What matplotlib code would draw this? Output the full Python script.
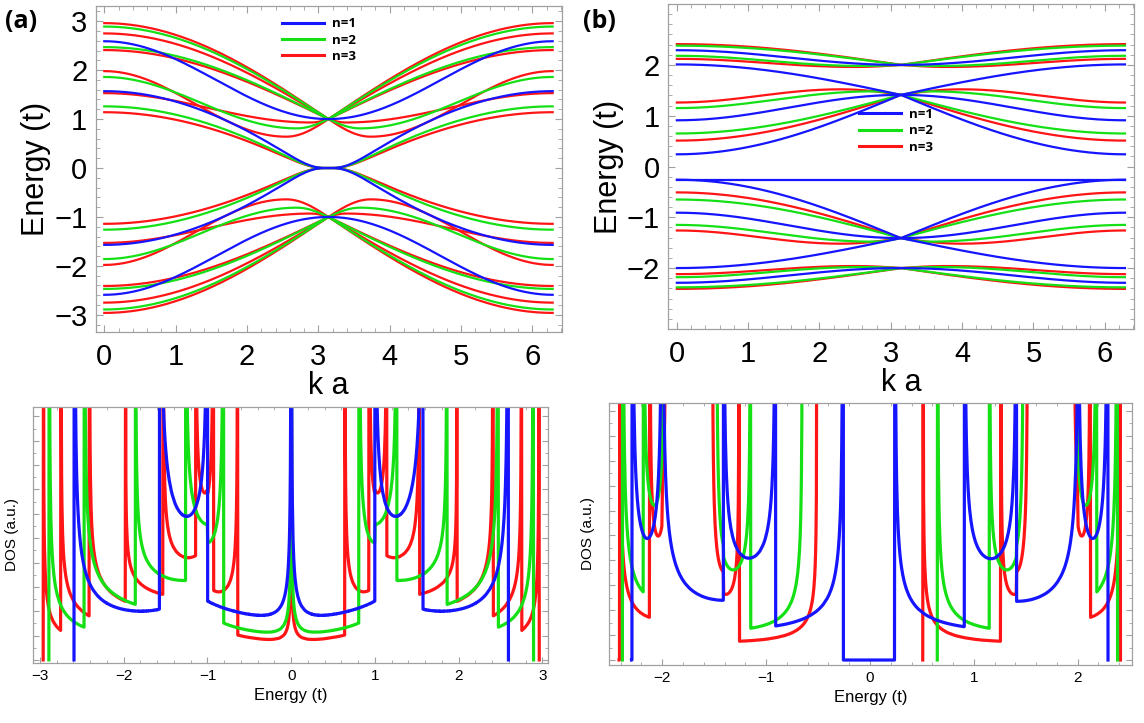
import numpy as np
import matplotlib.pyplot as plt

PI = np.pi

# Band nodes: (k of each extremum, E there, end) for 0 <= k <= pi.
# The other half of the zone is the mirror image E(2pi - k) = E(k).
# end = how the band meets k=pi: "flat" (extremum), "cross" (finite slope),
#       "touch" (crossing through a flat inflection point)

# ---- panel (a), E > 0 bands (E < 0 bands are the mirror image E -> -E)
a_n1 = [
    ([0, PI], [2.59, 1.00], "flat"),
    ([0, PI], [1.57, 0.00], "touch"),
]
a_n2 = [
    ([0, PI], [2.89, 1.00], "cross"),
    ([0, PI], [2.47, 1.00], "cross"),
    ([0, 2.70, PI], [1.86, 0.81, 1.00], "cross"),
    ([0, PI], [1.26, 0.00], "touch"),
]
a_n3 = [
    ([0, PI], [2.96, 1.00], "cross"),
    ([0, PI], [2.75, 1.00], "cross"),
    ([0, PI], [2.41, 1.00], "cross"),
    ([0, 2.55, PI], [1.98, 0.64, 1.00], "cross"),
    ([0, 2.90, PI], [1.53, 0.93, 1.00], "cross"),
    ([0, PI], [1.14, 0.00], "touch"),
]

# ---- panel (b), all n=1 bands
b_n1 = [
    ([0, PI], [2.29, 2.00], "flat"),
    ([0, PI], [2.01, 1.41], "cross"),
    ([0, PI], [0.91, 1.41], "flat"),
    ([0, PI], [0.24, 1.41], "cross"),
    ([0, PI], [-0.26, -0.26], "flat"),
    ([0, PI], [-0.26, -1.41], "cross"),
    ([0, PI], [-0.91, -1.41], "flat"),
    ([0, PI], [-2.00, -1.41], "cross"),
    ([0, PI], [-2.29, -2.00], "flat"),
]
# n=2 and n=3 in (b): E > 0 bands, mirrored to E < 0
b_n2 = [
    ([0, PI], [2.38, 2.00], "cross"),
    ([0, 2.60, PI], [2.18, 1.98, 2.00], "cross"),
    ([0, 2.75, PI], [1.15, 1.48, 1.41], "cross"),
    ([0, PI], [0.65, 1.41], "cross"),
]
b_n3 = [
    ([0, PI], [2.41, 2.00], "cross"),
    ([0, 2.50, PI], [2.12, 1.96, 2.00], "cross"),
    ([0, 2.30, PI], [1.26, 1.52, 1.41], "cross"),
    ([0, PI], [0.51, 1.41], "cross"),
]

# bands per unit cell (DOS normalisation) for n = 1, 2, 3
a_nbands = [4, 8, 12]
b_nbands = [9, 14, 19]
# energy window where the n=1 DOS of (b) is drawn at zero
b_n1_gap = (-0.26, 0.24)

labels = ["n=1", "n=2", "n=3"]
colors = ["#1515ff", "#15e015", "#ff1515"]


def band_curve(kn, en, end, k):
    e = np.empty_like(k)
    last = len(kn) - 2
    for j in range(len(kn) - 1):
        sel = (k >= kn[j]) & (k <= kn[j + 1])
        t = (k[sel] - kn[j]) / (kn[j + 1] - kn[j])
        if j == last and end != "flat":
            c = np.cos(PI * t / 2)
            if end == "touch":
                c = c**3 / (c**2 + 0.05) * 1.05
            e[sel] = en[j + 1] + (en[j] - en[j + 1]) * c
        else:
            e[sel] = en[j] + (en[j + 1] - en[j]) * (1 - np.cos(PI * t)) / 2
    return e


def full_bands(bands, mirror):
    out = []
    for kn, en, end in bands:
        out.append((kn, en, end))
        if mirror:
            out.append((kn, [-e for e in en], end))
    return out


k_half = np.linspace(0, PI, 400)
k_full = np.concatenate([k_half, 2 * PI - k_half[::-1]])
k_dense = np.linspace(0, PI, 200001)


def draw_bands(ax, sets):
    for bands, color in sets:
        for kn, en, end in bands:
            e = band_curve(kn, en, end, k_half)
            ax.plot(k_full, np.concatenate([e, e[::-1]]), color=color, lw=1.6)


def draw_dos(ax, sets, emax):
    step = 0.004
    edges = np.arange(-emax, emax + 1e-9, step)
    centers = 0.5 * (edges[1:] + edges[:-1])
    for bands, nb, color, gap in sets:
        total = np.zeros(len(centers))
        for kn, en, end in bands:
            c, _ = np.histogram(band_curve(kn, en, end, k_dense), bins=edges)
            total += c
        dos = total / (len(k_dense) * step) / nb
        valid = dos > 0
        idx = np.nonzero(valid)[0]
        valid[max(idx[0] - 1, 0)] = True
        valid[min(idx[-1] + 1, len(valid) - 1)] = True
        if gap is not None:
            valid |= (centers >= gap[0]) & (centers <= gap[1])
        ax.plot(centers, np.where(valid, np.minimum(dos, 5), np.nan), color=color, lw=2.3)


plt.rcParams["font.family"] = ["Liberation Sans", "DejaVu Sans"]
fig = plt.figure(figsize=(11.44, 7.23), dpi=100)
W, H = 1144, 723


def axes_px(l, t, r, b):
    return fig.add_axes([l / W, 1 - b / H, (r - l) / W, (b - t) / H])


def frame_style(ax, big):
    for s in ax.spines.values():
        s.set_color("#a0a0a0")
        s.set_linewidth(0.9)
    ax.tick_params(which="both", direction="in", top=True, right=True, color="#a0a0a0")
    ax.tick_params(which="major", length=5 if big else 4, labelsize=21 if big else 11,
                   pad=8 if big else 4)
    ax.tick_params(which="minor", length=3 if big else 2)


ax_a = axes_px(95.7, 6, 561.7, 332)
ax_b = axes_px(668.3, 4, 1134, 329)
ax_da = axes_px(33.3, 406.7, 548.3, 663)
ax_db = axes_px(609.3, 403, 1131.7, 665)

a_sets = [(full_bands(a_n3, True), colors[2]), (full_bands(a_n2, True), colors[1]),
          (full_bands(a_n1, True), colors[0])]
b_sets = [(full_bands(b_n3, True), colors[2]), (full_bands(b_n2, True), colors[1]),
          (full_bands(b_n1, False), colors[0])]
draw_bands(ax_a, a_sets)
draw_bands(ax_b, b_sets)

for ax, ylim in [(ax_a, (-3.35, 3.31)), (ax_b, (-2.67, 2.66))]:
    ax.set_xlim(-0.12, 6.41)
    ax.set_ylim(*ylim)
    ax.set_xticks(range(7))
    ax.set_xticks(np.arange(0, 6.5, 0.2), minor=True)
    ax.set_yticks(np.arange(-3, 3.5, 1) if ylim[1] > 3 else np.arange(-2, 2.5, 1))
    ax.set_yticks(np.arange(-3.2, 3.3, 0.2), minor=True)
    ax.set_yticklabels(["\u2212%d" % -v if v < 0 else "%d" % v for v in ax.get_yticks()])
    frame_style(ax, True)
    ax.tick_params(axis="y", pad=6)
    ax.set_xlabel("k a", fontsize=22, labelpad=0)
    ax.set_ylabel("Energy (t)", fontsize=22, labelpad=2)

# legends
for ax, anchor in [(ax_a, (0.385, 0.985)), (ax_b, (0.395, 0.70))]:
    handles = [plt.Line2D([], [], color=c, lw=2.2) for c in colors]
    ax.legend(handles, labels, loc="upper left", bbox_to_anchor=anchor, frameon=False,
              prop={"family": "Open Sans", "weight": "bold", "size": 9.5},
              handlelength=3.2, handletextpad=0.6, labelspacing=0.25, borderpad=0)

draw_dos(ax_da, [(full_bands(a_n3, True), a_nbands[2], colors[2], None),
                 (full_bands(a_n2, True), a_nbands[1], colors[1], None),
                 (full_bands(a_n1, True), a_nbands[0], colors[0], None)], 3.1)
draw_dos(ax_db, [(full_bands(b_n3, True), b_nbands[2], colors[2], None),
                 (full_bands(b_n2, True), b_nbands[1], colors[1], None),
                 (full_bands(b_n1, False), b_nbands[0], colors[0], b_n1_gap)], 2.55)

ax_da.set_xlim(-3.08, 3.07)
ax_da.set_ylim(-0.0063, 0.52)
ax_da.set_xticks(range(-3, 4))
ax_db.set_xlim(-2.51, 2.52)
ax_db.set_ylim(-0.01, 0.516)
ax_db.set_xticks(range(-2, 3))
for ax in (ax_da, ax_db):
    lo, hi = ax.get_xlim()
    ax.set_xticks(np.arange(np.ceil(lo * 5) / 5, hi, 0.2), minor=True)
    ax.set_yticks(np.arange(0, 0.52, 0.05))
    ax.set_yticks(np.arange(0, 0.52, 0.025), minor=True)
    ax.set_yticklabels([])
    ax.set_xticklabels(["\u2212%d" % -v if v < 0 else "%d" % v for v in ax.get_xticks()])
    frame_style(ax, False)
    ax.tick_params(top=False, right=True)
    ax.set_xlabel("Energy (t)", fontsize=12, labelpad=4)
    ax.set_ylabel("DOS (a.u.)", fontsize=11, labelpad=6)

fig.text(5 / W, 1 - 22 / H, "(a)", fontsize=18, fontweight="bold", family="Open Sans", va="center")
fig.text(583 / W, 1 - 22 / H, "(b)", fontsize=18, fontweight="bold", family="Open Sans", va="center")

fig.savefig("out.png", dpi=100)
